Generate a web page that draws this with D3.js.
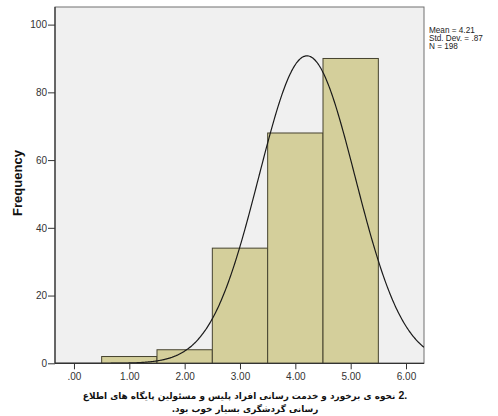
<!DOCTYPE html>
<html><head><meta charset="utf-8">
<script src="https://cdn.jsdelivr.net/npm/d3@7"></script>
<style>
body{margin:0;background:#fff}
#wrap{position:relative;width:498px;height:416px;overflow:hidden}
svg{display:block}
#xt{position:absolute;left:0;width:490px;top:390px;direction:rtl;text-align:center;
  font-family:"DejaVu Sans",sans-serif;font-weight:bold;font-size:11px;line-height:12.5px;color:#111;white-space:nowrap}
#xt .ln{display:inline-block}
#xt .num{font-family:"Liberation Sans",Arial,sans-serif;font-size:1.18em;unicode-bidi:isolate;direction:ltr}
</style>
</head><body>
<div id="wrap"><svg id="c" width="498" height="416"></svg><div id="xt"></div></div>
<script>
// Data
const binCenters = [1, 2, 3, 4, 5];
const frequencies = [2, 4, 34, 68, 90];
const yTicks = [0, 20, 40, 60, 80, 100];
const xTicks = [0, 1, 2, 3, 4, 5, 6];
const xTickLabels = [".00", "1.00", "2.00", "3.00", "4.00", "5.00", "6.00"];
const statsLines = ["Mean = 4.21", "Std. Dev. = .87", "N = 198"];
const meanVal = 4.21, sdVal = 0.87, nVal = 198, binWidth = 1;
const yTitle = "Frequency";
const xTitleNumber = "2.";
const xTitleLines = ["نحوه ی برخورد و خدمت رسانی افراد پلیس و مسئولین پایگاه های اطلاع", "رسانی گردشگری بسیار خوب بود."];

const L = 55, R = 424, T = 7, B = 363.3;
const svg = d3.select("#c");
const x = d3.scaleLinear().domain([-0.343, 6.325]).range([L, R]);
const y = d3.scaleLinear().domain([0, 105.2]).range([B, T]);

svg.append("rect").attr("x", L).attr("y", T).attr("width", R - L).attr("height", B - T)
  .attr("fill", "#f0f0f0").attr("stroke", "#707070").attr("stroke-width", 1);

svg.append("defs").append("clipPath").attr("id", "pc").append("rect")
  .attr("x", L).attr("y", T).attr("width", R - L).attr("height", B - T);

svg.selectAll("rect.bar").data(binCenters).enter().append("rect").attr("class", "bar")
  .attr("x", d => x(d - binWidth / 2)).attr("width", d => x(d + binWidth / 2) - x(d - binWidth / 2))
  .attr("y", (d, i) => y(frequencies[i])).attr("height", (d, i) => y(0) - y(frequencies[i]))
  .attr("fill", "#d4cf9b").attr("stroke", "#46432f").attr("stroke-width", 1);

const norm = v => nVal * binWidth / (sdVal * Math.sqrt(2 * Math.PI)) * Math.exp(-0.5 * ((v - meanVal) / sdVal) ** 2);
const pts = d3.range(0, 401).map(i => { const v = x.domain()[0] + (x.domain()[1] - x.domain()[0]) * i / 400; return [v, norm(v)]; });
svg.append("path").datum(pts).attr("clip-path", "url(#pc)")
  .attr("d", d3.line().x(d => x(d[0])).y(d => y(d[1])).curve(d3.curveBasis))
  .attr("fill", "none").attr("stroke", "#1a1a1a").attr("stroke-width", 1.2);

// Axes
const yAxis = d3.axisLeft(y).tickValues(yTicks).tickSize(7).tickPadding(1).tickFormat(d3.format("d"));
const gy = svg.append("g").attr("transform", `translate(${L},0)`).call(yAxis);
const xAxis = d3.axisBottom(x).tickValues(xTicks).tickSize(6).tickPadding(4).tickFormat((d, i) => xTickLabels[i]);
const gx = svg.append("g").attr("transform", `translate(0,${B})`).call(xAxis);
[gx, gy].forEach(g => {
  g.select(".domain").attr("stroke", "#333").attr("stroke-width", 1.2);
  g.selectAll(".tick line").attr("stroke", "#333");
  g.selectAll("text").attr("font-family", "Liberation Sans, Arial, sans-serif").attr("font-size", 10).attr("fill", "#333");
});
gx.select(".domain").attr("d", `M${L},0H${R}`);
gy.select(".domain").attr("d", `M0,${B}V${T}`);

svg.append("text").attr("transform", `translate(22,183) rotate(-90)`).attr("text-anchor", "middle")
  .attr("font-family", "Liberation Sans, Arial, sans-serif").attr("font-weight", "bold").attr("font-size", 13)
  .attr("fill", "#111").text(yTitle);

// X title (HTML for reliable right-to-left layout), sized so line 1 spans ~325px
const xt = d3.select("#xt");
const l1 = xt.append("div").append("span").attr("class", "ln");
l1.append("span").attr("class", "num").text(xTitleNumber);
l1.append("span").text(" " + xTitleLines[0]);
xt.append("div").append("span").attr("class", "ln").text(xTitleLines[1]);
const w1 = l1.node().getBoundingClientRect().width;
const fs = Math.min(12, 11 * 325 / w1);
xt.style("font-size", fs + "px");

svg.selectAll("text.st").data(statsLines).enter().append("text").attr("class", "st")
  .attr("x", 429).attr("y", (d, i) => 32.5 + i * 8)
  .attr("font-family", "Liberation Sans, Arial, sans-serif").attr("font-size", 8.2).attr("fill", "#222").text(d => d);
</script>
</body></html>
